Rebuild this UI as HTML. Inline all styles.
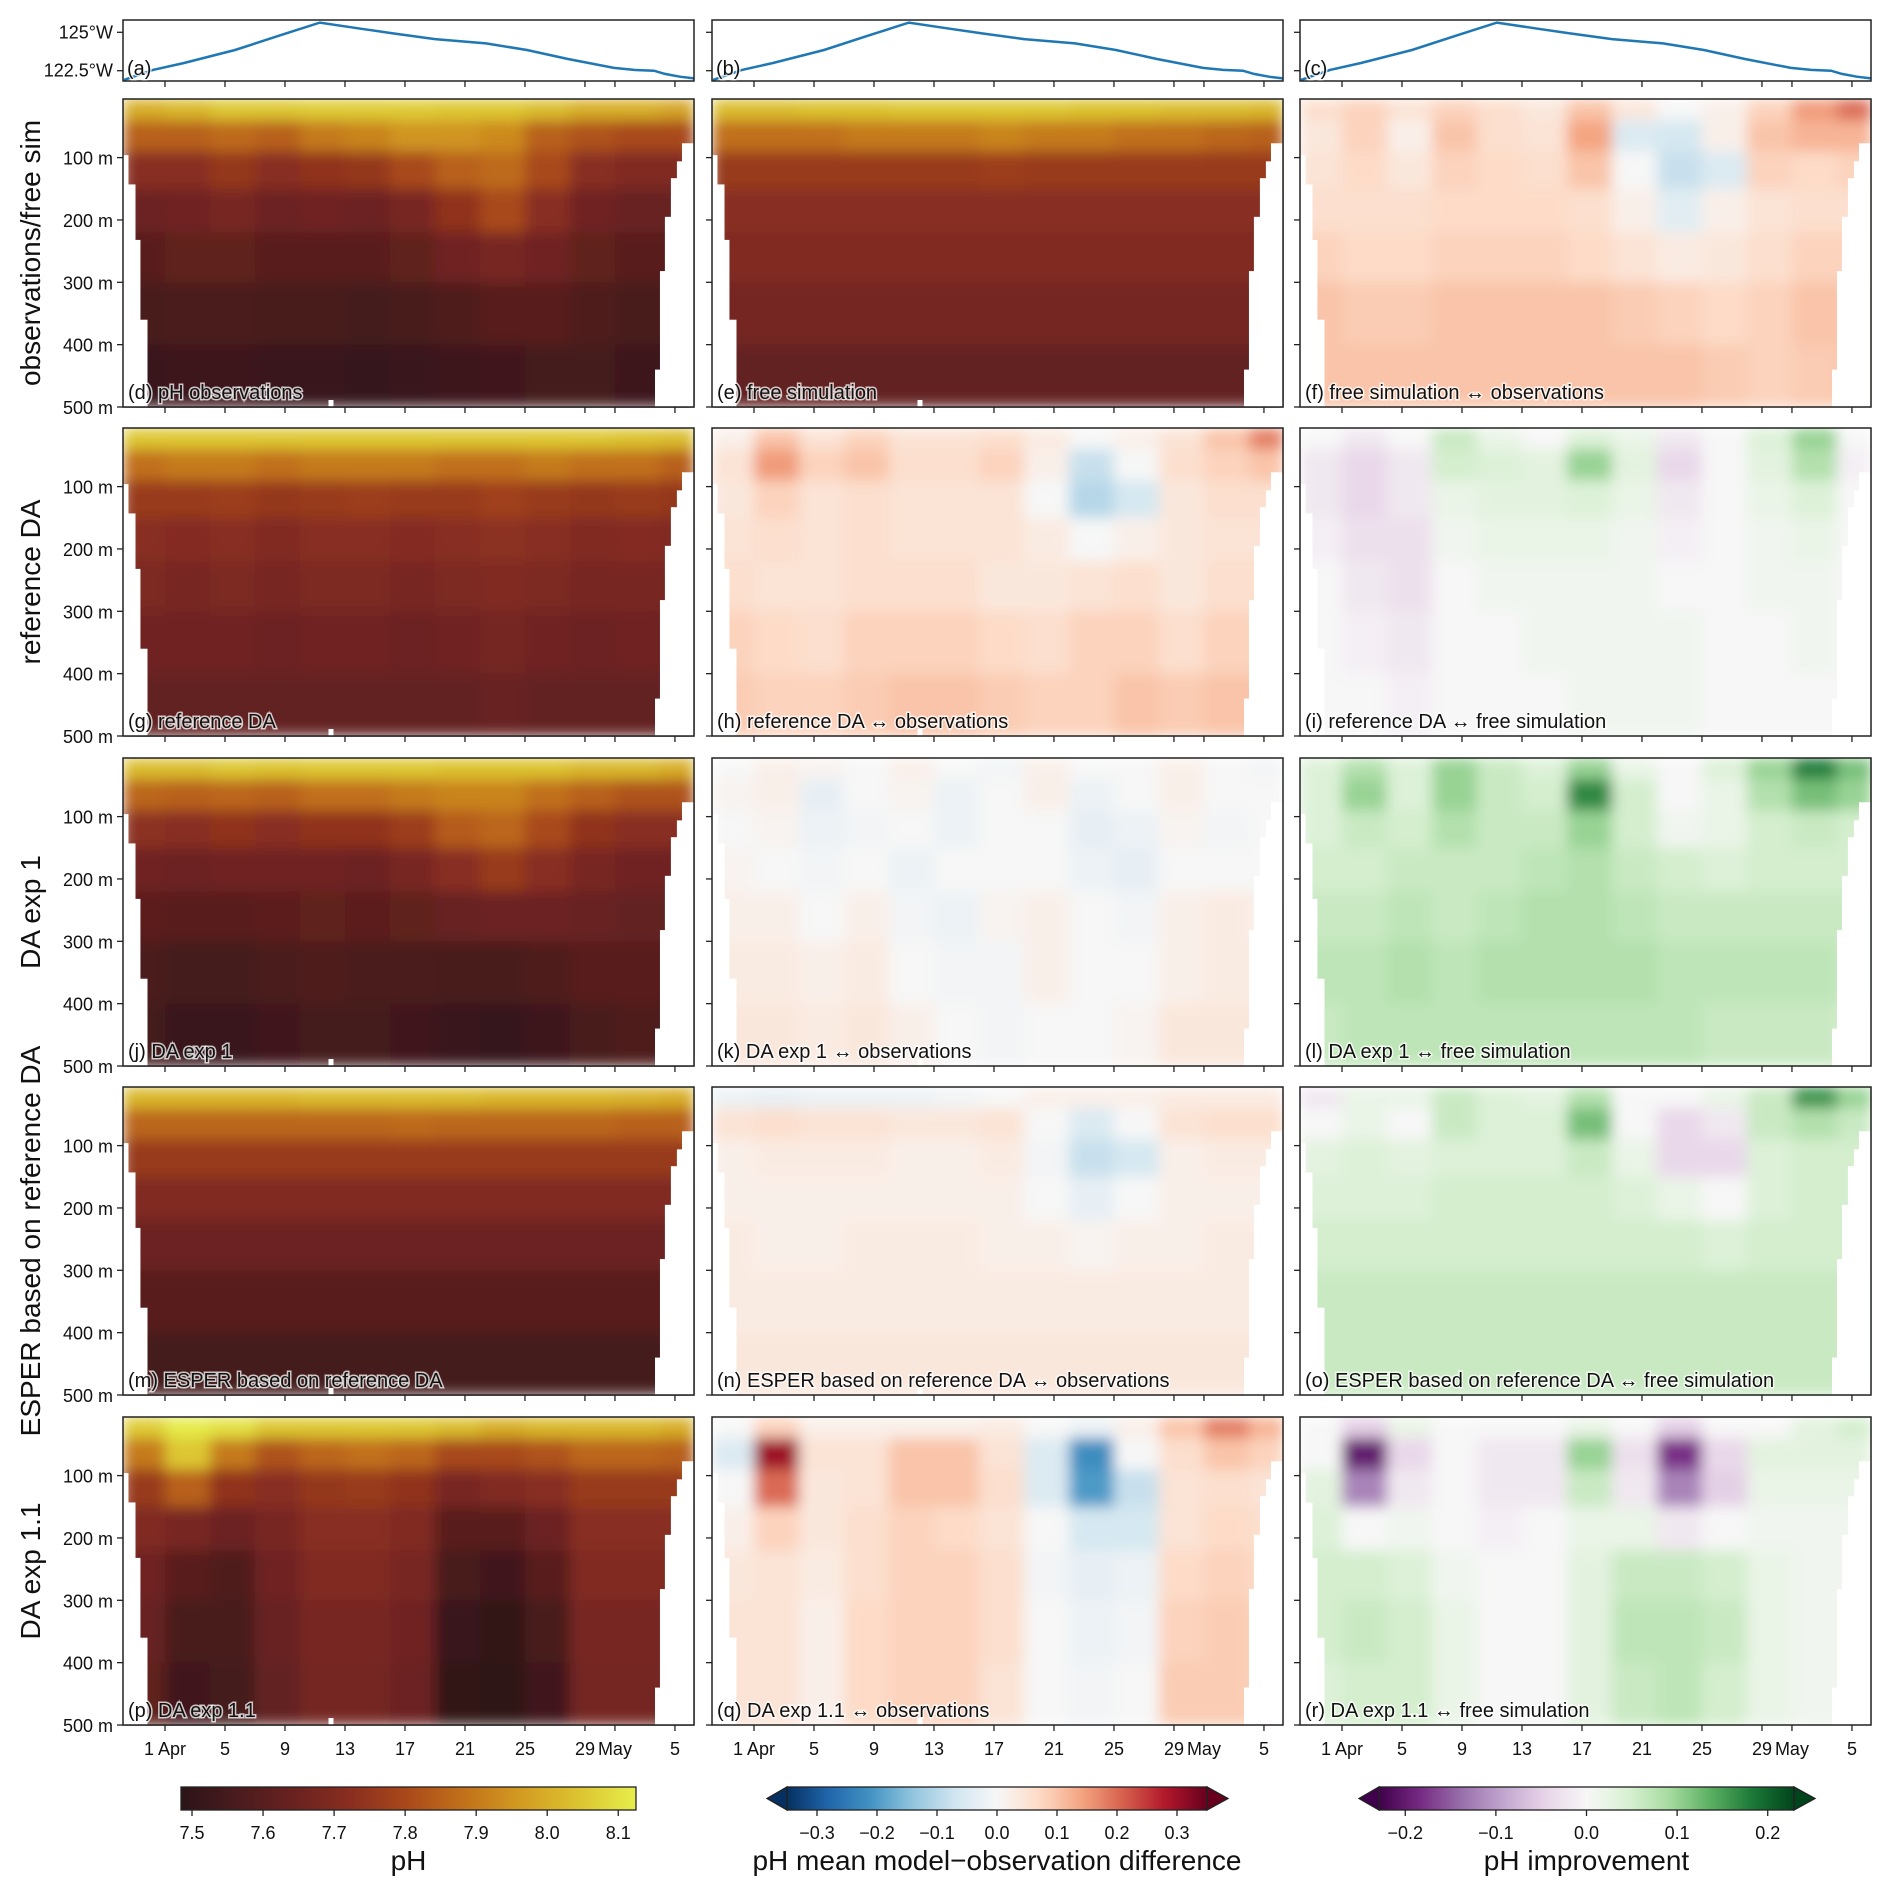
<!DOCTYPE html>
<html><head><meta charset="utf-8">
<style>
html,body{margin:0;padding:0;background:#fff;}
svg{display:block;font-family:"Liberation Sans","DejaVu Sans",sans-serif;}
.pl{font-size:20px;fill:#111;paint-order:stroke;stroke:#fff;stroke-width:3px;stroke-opacity:0.75;}
.tk{font-size:18px;fill:#111;}
.rl{font-size:28px;fill:#111;}
</style></head>
<body>
<svg id="fig" width="1892" height="1893" viewBox="0 0 1892 1893" xmlns="http://www.w3.org/2000/svg">
<defs>
<filter id="blur" x="0" y="0" width="1" height="1" filterUnits="objectBoundingBox">
<feGaussianBlur stdDeviation="7" edgeMode="duplicate"/>
</filter>
</defs>
</svg>
<script>
// ---------- data ----------
const colEdges = [-2.8,0,3,6,9,12,15,18,21,24,27,30,33,35.3];
const depthEdges = [6,40,90,150,220,300,400,500];
const lonDays = [-2.73,-0.8,1.27,4.67,7.73,10.33,12.87,15.2,18.0,21.4,24.13,26.87,29.93,31.27,32.6,33.33,34.33,35.27];
const lonVals = [121.9,122.55,123.0,123.85,124.82,125.63,125.26,124.93,124.56,124.28,123.85,123.26,122.68,122.55,122.5,122.29,122.11,122.0];
const xTickDays = [0,4,8,12,16,20,24,28,30,34];
const xTickLabels = ["1 Apr","5","9","13","17","21","25","29","May","5"];
const depthTicks = [100,200,300,400,500];
const lonTicks = [125,122.5];
const lonTickLabels = ["125°W","122.5°W"];

const phObs = [
[8.0,8.02,8.05,8.05,8.06,8.06,8.06,8.05,8.05,8.03,8.0,8.0,7.98],
[7.85,7.85,7.87,7.85,7.9,7.92,7.95,7.95,7.93,7.85,7.82,7.8,7.8],
[7.72,7.72,7.75,7.72,7.74,7.75,7.8,7.85,7.87,7.8,7.72,7.7,7.7],
[7.65,7.66,7.68,7.65,7.66,7.65,7.68,7.74,7.8,7.72,7.66,7.64,7.64],
[7.6,7.62,7.62,7.6,7.6,7.6,7.62,7.66,7.68,7.66,7.62,7.6,7.6],
[7.56,7.57,7.57,7.56,7.56,7.55,7.56,7.58,7.6,7.6,7.58,7.56,7.56],
[7.52,7.53,7.53,7.52,7.52,7.51,7.52,7.53,7.54,7.55,7.55,7.53,7.53]];
const phFree = [
[8.03,8.03,8.04,8.04,8.05,8.05,8.05,8.05,8.04,8.04,8.03,8.03,8.02],
[7.88,7.88,7.88,7.9,7.9,7.9,7.92,7.9,7.9,7.88,7.88,7.86,7.85],
[7.76,7.76,7.76,7.76,7.76,7.76,7.77,7.76,7.76,7.76,7.76,7.76,7.76],
[7.72,7.72,7.72,7.72,7.72,7.72,7.72,7.72,7.72,7.72,7.72,7.72,7.72],
[7.7,7.7,7.7,7.7,7.7,7.7,7.7,7.7,7.7,7.7,7.7,7.7,7.7],
[7.67,7.67,7.67,7.67,7.67,7.67,7.67,7.67,7.67,7.67,7.67,7.67,7.67],
[7.63,7.63,7.63,7.63,7.63,7.63,7.63,7.63,7.63,7.63,7.63,7.63,7.63]];
const phRefDA = [
[8.05,8.05,8.05,8.05,8.05,8.05,8.05,8.05,8.05,8.05,8.05,8.04,8.03],
[7.88,7.9,7.9,7.88,7.9,7.9,7.9,7.88,7.88,7.9,7.88,7.88,7.85],
[7.76,7.76,7.77,7.75,7.76,7.77,7.76,7.76,7.78,7.76,7.75,7.76,7.75],
[7.72,7.71,7.72,7.7,7.72,7.72,7.71,7.72,7.73,7.72,7.7,7.71,7.7],
[7.69,7.68,7.69,7.68,7.69,7.69,7.68,7.69,7.7,7.69,7.68,7.68,7.68],
[7.66,7.66,7.66,7.65,7.66,7.66,7.65,7.66,7.67,7.66,7.65,7.66,7.65],
[7.63,7.63,7.63,7.63,7.63,7.63,7.63,7.63,7.64,7.63,7.63,7.63,7.63]];
const phExp1 = [
[8.03,8.03,8.05,8.04,8.05,8.05,8.05,8.04,8.04,8.04,8.02,8.02,8.0],
[7.86,7.85,7.86,7.85,7.88,7.88,7.9,7.92,7.92,7.88,7.85,7.82,7.82],
[7.73,7.72,7.74,7.72,7.74,7.74,7.77,7.84,7.86,7.8,7.74,7.72,7.72],
[7.66,7.65,7.66,7.66,7.66,7.65,7.68,7.72,7.76,7.72,7.68,7.66,7.66],
[7.61,7.6,7.6,7.61,7.62,7.61,7.62,7.64,7.65,7.65,7.64,7.63,7.63],
[7.57,7.55,7.55,7.57,7.58,7.57,7.57,7.56,7.56,7.58,7.6,7.6,7.6],
[7.55,7.52,7.52,7.54,7.55,7.55,7.54,7.52,7.51,7.53,7.56,7.58,7.57]];
const phEsper = [
[8.02,8.02,8.02,8.02,8.03,8.03,8.03,8.03,8.02,8.02,8.02,8.01,8.0],
[7.86,7.86,7.86,7.86,7.86,7.86,7.87,7.86,7.86,7.86,7.86,7.85,7.85],
[7.76,7.76,7.76,7.76,7.76,7.76,7.76,7.76,7.76,7.76,7.76,7.76,7.76],
[7.7,7.7,7.7,7.7,7.7,7.7,7.7,7.7,7.7,7.7,7.7,7.7,7.7],
[7.65,7.65,7.65,7.65,7.65,7.65,7.65,7.65,7.65,7.65,7.65,7.65,7.65],
[7.6,7.6,7.6,7.6,7.6,7.6,7.6,7.6,7.6,7.6,7.6,7.6,7.6],
[7.55,7.55,7.55,7.55,7.55,7.55,7.55,7.55,7.55,7.55,7.55,7.55,7.55]];
const phExp11 = [
[8.06,8.12,8.1,8.05,8.05,8.05,8.05,8.03,8.0,8.02,8.02,8.02,8.0],
[7.9,8.05,7.9,7.82,7.86,7.88,7.86,7.8,7.8,7.82,7.86,7.86,7.85],
[7.76,7.85,7.74,7.72,7.75,7.76,7.74,7.68,7.7,7.72,7.76,7.76,7.76],
[7.7,7.68,7.65,7.68,7.72,7.72,7.7,7.6,7.6,7.65,7.72,7.72,7.72],
[7.66,7.6,7.58,7.66,7.7,7.7,7.68,7.56,7.54,7.6,7.7,7.7,7.7],
[7.64,7.56,7.56,7.64,7.68,7.68,7.66,7.52,7.5,7.56,7.68,7.68,7.68],
[7.62,7.54,7.55,7.63,7.67,7.67,7.65,7.5,7.49,7.54,7.67,7.67,7.67]];

const diffFreeObs = [
[0.06,0.08,0.05,0.08,0.06,0.04,0.1,0.04,0.0,0.02,0.08,0.15,0.2],
[0.04,0.08,0.02,0.1,0.06,0.05,0.14,-0.05,-0.06,0.02,0.1,0.12,0.12],
[0.05,0.07,0.04,0.08,0.07,0.06,0.1,0.0,-0.08,-0.05,0.08,0.07,0.08],
[0.06,0.06,0.06,0.07,0.07,0.07,0.06,0.02,-0.04,0.02,0.05,0.06,0.06],
[0.08,0.07,0.07,0.08,0.08,0.08,0.07,0.05,0.03,0.04,0.06,0.08,0.08],
[0.1,0.09,0.09,0.1,0.1,0.1,0.1,0.09,0.08,0.07,0.08,0.1,0.1],
[0.1,0.1,0.1,0.1,0.1,0.1,0.1,0.1,0.1,0.09,0.08,0.09,0.1]];
const diffRefObs = [
[0.02,0.1,0.05,0.08,0.05,0.05,0.06,0.03,0.0,0.02,0.05,0.1,0.18],
[0.05,0.15,0.08,0.1,0.06,0.06,0.08,0.02,-0.08,0.0,0.06,0.08,0.1],
[0.04,0.08,0.05,0.06,0.05,0.05,0.05,0.0,-0.1,-0.06,0.04,0.06,0.06],
[0.05,0.06,0.05,0.06,0.05,0.05,0.05,0.03,0.0,0.02,0.04,0.05,0.05],
[0.06,0.05,0.05,0.06,0.06,0.06,0.04,0.04,0.05,0.06,0.04,0.06,0.06],
[0.08,0.07,0.06,0.08,0.08,0.08,0.07,0.06,0.08,0.08,0.06,0.08,0.08],
[0.09,0.08,0.08,0.09,0.1,0.1,0.09,0.08,0.08,0.1,0.09,0.1,0.1]];
const diffExp1Obs = [
[0.0,0.02,0.01,0.0,0.02,0.0,-0.01,0.02,0.0,0.0,0.02,0.0,-0.01],
[0.01,0.02,-0.03,0.0,0.01,-0.02,0.0,0.02,-0.02,0.0,0.02,0.0,0.0],
[0.0,0.01,-0.02,-0.01,0.0,-0.02,0.0,0.0,-0.03,-0.02,0.01,-0.01,0.0],
[0.01,0.0,-0.01,0.0,-0.02,0.0,0.0,0.0,-0.02,-0.03,0.0,0.0,0.0],
[0.02,0.02,0.0,0.02,-0.01,-0.02,0.01,0.02,0.0,-0.01,0.02,0.03,0.02],
[0.03,0.03,0.02,0.03,0.0,-0.01,-0.01,0.02,0.0,0.0,0.02,0.03,0.03],
[0.04,0.04,0.03,0.04,0.02,0.0,-0.01,0.0,0.0,0.01,0.04,0.04,0.04]];
const diffEsperObs = [
[-0.02,-0.03,-0.02,-0.02,-0.02,-0.01,0.0,0.02,0.02,0.02,0.03,0.03,0.03],
[0.05,0.06,0.05,0.05,0.04,0.04,0.05,0.0,-0.05,0.0,0.05,0.06,0.06],
[0.02,0.03,0.03,0.03,0.02,0.02,0.03,-0.01,-0.08,-0.06,0.02,0.03,0.03],
[0.02,0.02,0.02,0.02,0.02,0.02,0.02,0.0,-0.03,0.0,0.02,0.02,0.02],
[0.03,0.02,0.02,0.03,0.03,0.03,0.02,0.02,0.01,0.02,0.02,0.03,0.03],
[0.03,0.03,0.03,0.03,0.03,0.03,0.03,0.03,0.03,0.03,0.03,0.03,0.03],
[0.04,0.04,0.04,0.04,0.04,0.04,0.04,0.04,0.04,0.04,0.04,0.04,0.04]];
const diffExp11Obs = [
[0.0,0.08,0.02,0.02,0.02,0.02,0.03,0.0,-0.02,0.02,0.1,0.18,0.12],
[-0.05,0.3,0.05,0.05,0.1,0.1,0.05,-0.05,-0.22,0.0,0.06,0.1,0.08],
[0.0,0.2,0.04,0.05,0.1,0.1,0.06,-0.05,-0.2,-0.08,0.05,0.06,0.05],
[0.02,0.08,0.04,0.06,0.08,0.07,0.05,0.0,-0.06,-0.06,0.05,0.07,0.06],
[0.04,0.05,0.03,0.06,0.08,0.08,0.06,-0.01,-0.03,-0.02,0.07,0.08,0.07],
[0.05,0.05,0.02,0.07,0.08,0.08,0.06,0.0,-0.02,-0.01,0.08,0.09,0.08],
[0.05,0.05,0.02,0.07,0.08,0.08,0.05,0.0,-0.01,0.0,0.09,0.09,0.08]];

const impRef = [
[0.0,-0.02,0.0,0.06,0.02,0.0,0.04,0.02,-0.02,0.0,0.04,0.1,0.0],
[-0.02,-0.04,-0.02,0.05,0.04,0.03,0.1,0.03,-0.04,0.0,0.03,0.08,-0.01],
[-0.02,-0.04,-0.02,0.02,0.03,0.03,0.04,0.02,-0.02,0.0,0.02,0.04,0.0],
[-0.01,-0.03,-0.03,0.01,0.02,0.02,0.02,0.01,-0.01,0.0,0.01,0.02,0.0],
[0.0,-0.02,-0.03,0.0,0.01,0.01,0.01,0.01,0.0,0.0,0.01,0.01,0.0],
[0.0,-0.01,-0.02,0.0,0.0,0.01,0.01,0.01,0.01,0.0,0.0,0.01,0.0],
[0.0,0.0,-0.01,0.0,0.0,0.0,0.01,0.01,0.01,0.0,0.0,0.0,0.0]];
const impExp1 = [
[0.04,0.08,0.04,0.1,0.06,0.04,0.1,0.02,0.0,0.04,0.1,0.18,0.12],
[0.04,0.1,0.04,0.1,0.06,0.05,0.17,0.05,0.0,0.02,0.08,0.12,0.1],
[0.04,0.06,0.05,0.08,0.06,0.06,0.1,0.05,0.01,0.02,0.05,0.06,0.05],
[0.05,0.05,0.06,0.06,0.06,0.07,0.08,0.06,0.05,0.04,0.05,0.05,0.05],
[0.06,0.06,0.07,0.06,0.07,0.08,0.08,0.07,0.06,0.06,0.06,0.06,0.06],
[0.07,0.07,0.08,0.07,0.08,0.08,0.08,0.08,0.07,0.07,0.07,0.07,0.06],
[0.06,0.07,0.07,0.07,0.07,0.07,0.07,0.07,0.07,0.06,0.06,0.06,0.05]];
const impEsper = [
[-0.02,0.02,0.02,0.06,0.04,0.03,0.08,0.0,0.0,0.02,0.06,0.16,0.1],
[0.0,0.02,0.0,0.06,0.04,0.04,0.12,0.0,-0.04,-0.02,0.06,0.08,0.06],
[0.03,0.04,0.03,0.04,0.04,0.04,0.06,0.02,-0.04,-0.04,0.04,0.05,0.05],
[0.04,0.04,0.04,0.05,0.05,0.05,0.05,0.04,0.02,0.0,0.04,0.05,0.05],
[0.05,0.05,0.05,0.05,0.05,0.05,0.05,0.05,0.05,0.04,0.05,0.05,0.05],
[0.06,0.06,0.06,0.06,0.06,0.06,0.06,0.06,0.06,0.06,0.06,0.06,0.06],
[0.06,0.06,0.06,0.06,0.06,0.06,0.06,0.06,0.06,0.06,0.06,0.06,0.06]];
const impExp11 = [
[0.0,-0.05,0.02,0.0,0.0,0.0,0.02,0.0,-0.05,0.0,0.0,0.03,0.05],
[0.0,-0.2,-0.04,0.0,-0.02,-0.02,0.1,-0.03,-0.18,-0.04,0.03,0.03,0.03],
[0.03,-0.12,-0.02,0.0,-0.02,-0.02,0.06,-0.02,-0.12,-0.05,0.02,0.02,0.02],
[0.04,0.0,0.01,0.0,-0.01,0.0,0.02,0.02,-0.02,0.0,0.01,0.01,0.01],
[0.05,0.05,0.04,0.01,0.0,0.0,0.03,0.06,0.06,0.05,0.02,0.01,0.01],
[0.05,0.06,0.05,0.02,0.0,0.0,0.03,0.07,0.07,0.06,0.02,0.01,0.01],
[0.04,0.05,0.05,0.02,0.0,0.0,0.03,0.06,0.07,0.05,0.02,0.01,0.01]];

const phTicks = [7.5,7.6,7.7,7.8,7.9,8.0,8.1];
const diffTicks = [-0.3,-0.2,-0.1,0.0,0.1,0.2,0.3];
const impTicks = [-0.2,-0.1,0.0,0.1,0.2];

// ---------- layout ----------
const NS = "http://www.w3.org/2000/svg";
const svg = document.getElementById('fig');
const colX = [123,712,1300], PW = 571;
const topY = 20, topH = 61;
const rowY = [99,428,758,1087,1417], PH = 308;
const dayMin = -2.8, dayMax = 35.27, depMin = 6, depMax = 500;
function xDay(c, d){ return colX[c] + (d - dayMin)/(dayMax - dayMin)*PW; }
function yDep(r, z){ return rowY[r] + (z - depMin)/(depMax - depMin)*PH; }
function yLon(v){ return topY + (125.8 - v)/(125.8 - 121.83)*topH; }

function el(tag, attrs, parent){
  const e = document.createElementNS(NS, tag);
  for (const k in attrs) e.setAttribute(k, attrs[k]);
  (parent||svg).appendChild(e); return e;
}
function hex(h){ return [parseInt(h.slice(1,3),16),parseInt(h.slice(3,5),16),parseInt(h.slice(5,7),16)]; }
function mkCmap(stops){ const s = stops.map(hex);
  return function(t){ t=Math.max(0,Math.min(1,t)); const f=t*(s.length-1); const i=Math.min(s.length-2,Math.floor(f)); const u=f-i;
    const c=[0,1,2].map(k=>Math.round(s[i][k]+(s[i+1][k]-s[i][k])*u)); return `rgb(${c[0]},${c[1]},${c[2]})`; }; }
const phC = mkCmap(["#2c1418","#4a1b1e","#6a2220","#8a2e20","#aa4a1a","#c2721a","#d39c22","#dcc430","#e6ee4c"]);
const rdbu = mkCmap(["#053061","#2166ac","#4393c3","#92c5de","#d1e5f0","#f7f7f7","#fddbc7","#f4a582","#d6604d","#b2182b","#67001f"]);
const prgn = mkCmap(["#40004b","#762a83","#9970ab","#c2a5cf","#e7d4e8","#f7f7f7","#d9f0d3","#a6dba0","#5aae61","#1b7837","#00441b"]);
const scales = {
  ph: {min:7.4845, max:8.125, cm:phC},
  diff: {min:-0.35, max:0.35, cm:rdbu},
  imp: {min:-0.229, max:0.229, cm:prgn}
};
function colorOf(kind, v){ const s=scales[kind]; return s.cm((v-s.min)/(s.max-s.min)); }

const maskLeft = [[-2.8,-2.47,96],[-2.47,-2.0,143],[-2.0,-1.67,232],[-1.67,-1.2,360]];
const maskRight = [[32.67,33.0,440],[33.0,33.33,282],[33.33,33.73,195],[33.73,34.13,133],[34.13,34.47,106],[34.47,35.3,77]];

const panels = [
 {row:0,col:0,data:phObs,kind:'ph',name:'panel-d-ph-observations',label:'(d) pH observations'},
 {row:0,col:1,data:phFree,kind:'ph',name:'panel-e-free-simulation',label:'(e) free simulation'},
 {row:0,col:2,data:diffFreeObs,kind:'diff',name:'panel-f-free-vs-obs',label:'(f) free simulation ↔ observations'},
 {row:1,col:0,data:phRefDA,kind:'ph',name:'panel-g-reference-da',label:'(g) reference DA'},
 {row:1,col:1,data:diffRefObs,kind:'diff',name:'panel-h-refda-vs-obs',label:'(h) reference DA ↔ observations'},
 {row:1,col:2,data:impRef,kind:'imp',name:'panel-i-refda-vs-free',label:'(i) reference DA ↔ free simulation'},
 {row:2,col:0,data:phExp1,kind:'ph',name:'panel-j-da-exp1',label:'(j) DA exp 1'},
 {row:2,col:1,data:diffExp1Obs,kind:'diff',name:'panel-k-exp1-vs-obs',label:'(k) DA exp 1 ↔ observations'},
 {row:2,col:2,data:impExp1,kind:'imp',name:'panel-l-exp1-vs-free',label:'(l) DA exp 1 ↔ free simulation'},
 {row:3,col:0,data:phEsper,kind:'ph',name:'panel-m-esper',label:'(m) ESPER based on reference DA'},
 {row:3,col:1,data:diffEsperObs,kind:'diff',name:'panel-n-esper-vs-obs',label:'(n) ESPER based on reference DA ↔ observations'},
 {row:3,col:2,data:impEsper,kind:'imp',name:'panel-o-esper-vs-free',label:'(o) ESPER based on reference DA ↔ free simulation'},
 {row:4,col:0,data:phExp11,kind:'ph',name:'panel-p-da-exp11',label:'(p) DA exp 1.1'},
 {row:4,col:1,data:diffExp11Obs,kind:'diff',name:'panel-q-exp11-vs-obs',label:'(q) DA exp 1.1 ↔ observations'},
 {row:4,col:2,data:impExp11,kind:'imp',name:'panel-r-exp11-vs-free',label:'(r) DA exp 1.1 ↔ free simulation'}
];

// ---------- top longitude panels ----------
['a','b','c'].forEach((lab,c)=>{
  const g = el('g',{});
  
  
  const pts = lonDays.map((d,i)=>xDay(c,d).toFixed(1)+','+yLon(lonVals[i]).toFixed(1)).join(' ');
  const pl = el('polyline',{points:pts,fill:'none',stroke:'#1f77b4','stroke-width':2.5},g);
  
  
  el('rect',{x:colX[c],y:topY,width:PW,height:topH,fill:'none',stroke:'#222','stroke-width':1.5},g);
  const t = el('text',{x:colX[c]+4,y:topY+topH-6,class:'pl'},g); t.textContent='('+lab+')';
  
  
  lonTicks.forEach((v,i)=>{
    const y=yLon(v);
    el('line',{x1:colX[c]-6,x2:colX[c],y1:y,y2:y,stroke:'#222','stroke-width':1.3},g);
    if(c===0){ const tt=el('text',{x:colX[c]-10,y:y+6,class:'tk','text-anchor':'end'},g); tt.textContent=lonTickLabels[i];
      
       }
  });
  xTickDays.forEach(d=>{ const x=xDay(c,d); el('line',{x1:x,x2:x,y1:topY+topH,y2:topY+topH+6,stroke:'#222','stroke-width':1.3},g); });
});

// ---------- heatmap panels ----------
panels.forEach(p=>{
  const x0=colX[p.col], y0=rowY[p.row];
  const g = el('g',{});
  
  
  const cells = el('g',{filter:'url(#blur)'},g);
  p.data.forEach((rowVals,ri)=>{
    rowVals.forEach((v,ci)=>{
      const xa=xDay(p.col,colEdges[ci]), xb=xDay(p.col,colEdges[ci+1]);
      const ya=yDep(p.row,depthEdges[ri]), yb=yDep(p.row,depthEdges[ri+1]);
      const r=el('rect',{x:Math.max(x0,xa).toFixed(1),y:ya.toFixed(1),width:(Math.min(x0+PW,xb)-Math.max(x0,xa)+0.6).toFixed(1),height:(yb-ya+0.6).toFixed(1),fill:colorOf(p.kind,v)},cells);
      
      
    });
  });
  maskLeft.concat(maskRight).forEach(m=>{
    const xa=Math.max(x0,xDay(p.col,m[0])), xb=Math.min(x0+PW,xDay(p.col,m[1]));
    const ya=yDep(p.row,m[2]);
    el('rect',{x:xa,y:ya,width:xb-xa+0.5,height:y0+PH-ya,fill:'#fff'},g);
  });
  if(p.col<2){ el('rect',{x:xDay(p.col,10.9),y:y0+PH-7,width:5,height:7,fill:'#fff'},g); }
  el('rect',{x:x0,y:y0,width:PW,height:PH,fill:'none',stroke:'#222','stroke-width':1.5},g);
  const t=el('text',{x:x0+5,y:y0+PH-8,class:'pl'},g); t.textContent=p.label;
  
  
  depthTicks.forEach(z=>{ const y=yDep(p.row,z);
    el('line',{x1:x0-6,x2:x0,y1:y,y2:y,stroke:'#222','stroke-width':1.3},g);
    if(p.col===0){ const tt=el('text',{x:x0-10,y:y+7,class:'tk','text-anchor':'end'},g); tt.textContent=z+' m';
      
       }
  });
  xTickDays.forEach((d,i)=>{ const x=xDay(p.col,d);
    el('line',{x1:x,x2:x,y1:y0+PH,y2:y0+PH+6,stroke:'#222','stroke-width':1.3},g);
    if(p.row===4){ const tt=el('text',{x:x,y:y0+PH+30,class:'tk','text-anchor':'middle'},g); tt.textContent=xTickLabels[i];
      
       }
  });
});

// ---------- row labels ----------
const rowLabels = ["observations/free sim","reference DA","DA exp 1","ESPER based on reference DA","DA exp 1.1"];
rowLabels.forEach((s,i)=>{
  const cy=rowY[i]+PH/2;
  const t=el('text',{x:0,y:0,class:'rl','text-anchor':'middle',transform:`translate(40,${cy}) rotate(-90)`});
  t.textContent=s;
  
  
});

// ---------- colorbars ----------
const cbY=1787, cbH=23;
const cbs = [
 {kind:'ph',x:181,w:455,ticks:phTicks,fmt:v=>v.toFixed(1),arrows:false,title:'pH',name:'ph-colorbar'},
 {kind:'diff',x:787,w:420,ticks:diffTicks,fmt:v=>(v<0?'−':'')+Math.abs(v).toFixed(1),arrows:true,title:'pH mean model−observation difference',name:'difference-colorbar'},
 {kind:'imp',x:1379,w:415,ticks:impTicks,fmt:v=>(v<0?'−':'')+Math.abs(v).toFixed(1),arrows:true,title:'pH improvement',name:'improvement-colorbar'}
];
const defs=svg.querySelector('defs');
cbs.forEach((cb,k)=>{
  const s=scales[cb.kind];
  const gid='grad'+k;
  const lg=el('linearGradient',{id:gid,x1:0,x2:1,y1:0,y2:0},defs);
  for(let i=0;i<=40;i++){ el('stop',{offset:(i/40).toFixed(3),'stop-color':s.cm(i/40)},lg); }
  const g=el('g',{});
  
  
  el('rect',{x:cb.x,y:cbY,width:cb.w,height:cbH,fill:`url(#${gid})`},g);
  if(cb.arrows){
    el('polygon',{points:`${cb.x},${cbY} ${cb.x-20},${cbY+cbH/2} ${cb.x},${cbY+cbH}`,fill:s.cm(0),stroke:'#222','stroke-width':1.3},g);
    el('polygon',{points:`${cb.x+cb.w},${cbY} ${cb.x+cb.w+21},${cbY+cbH/2} ${cb.x+cb.w},${cbY+cbH}`,fill:s.cm(1),stroke:'#222','stroke-width':1.3},g);
  }
  el('rect',{x:cb.x,y:cbY,width:cb.w,height:cbH,fill:'none',stroke:'#222','stroke-width':1.3},g);
  cb.ticks.forEach(v=>{
    const x=cb.x+(v-s.min)/(s.max-s.min)*cb.w;
    el('line',{x1:x,x2:x,y1:cbY+cbH,y2:cbY+cbH+6,stroke:'#222','stroke-width':1.3},g);
    const tt=el('text',{x:x,y:cbY+cbH+29,class:'tk','text-anchor':'middle'},g); tt.textContent=cb.fmt(v);
    
    
  });
  const tl=el('text',{x:cb.x+cb.w/2,y:1870,class:'rl','text-anchor':'middle'},g); tl.textContent=cb.title;
  
  
});
</script>
</body></html>
